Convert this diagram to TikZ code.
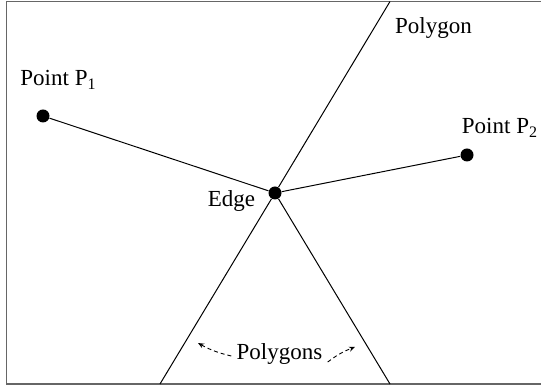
\documentclass[tikz,border=0pt]{standalone}
\usepackage{fontspec}
\setmainfont{Liberation Serif}
\usetikzlibrary{arrows.meta}
\newcommand\subdig[1]{\raisebox{-0.4ex}{\fontsize{8}{9}\selectfont #1}}
\tikzset{
  dotnode/.style={circle,fill=black,inner sep=0pt,minimum size=6.5pt},
  lbl/.style={inner sep=0pt,font=\fontsize{11.5}{13}\selectfont},
  edgeline/.style={line width=0.5pt},
  frameline/.style={line width=0.8pt,draw=black!60},
  hintarrow/.style={dashed,line width=0.45pt,dash pattern=on 2pt off 1.5pt,-{Stealth[length=3pt,width=2.5pt,open]}}
}
\begin{document}
\begin{tikzpicture}[x=0.5pt,y=-0.5pt]
\useasboundingbox (0,0) rectangle (541,389);
\draw[frameline] (541,1.5) -- (6.5,1.5) -- (6.5,384) -- (541,384);
\node[dotnode] (p1) at (43,116) {};
\node[dotnode] (p2) at (467,155) {};
\node[dotnode] (e) at (275,193) {};
\coordinate (top) at (390,1.5);
\coordinate (bl) at (160,384);
\coordinate (br) at (390,384);
\draw[edgeline] (top) -- (e);
\draw[edgeline] (e) -- (bl);
\draw[edgeline] (e) -- (br);
\draw[edgeline] (p1) -- (e);
\draw[edgeline] (e) -- (p2);
\node[lbl] (lp1) at (58,80) {Point P\subdig{1}};
\node[lbl] (lp2) at (499.5,128) {Point P\subdig{2}};
\node[lbl] (le) at (231.5,201) {Edge};
\node[lbl] (lpoly) at (433.5,28) {Polygon};
\node[lbl] (lpolys) at (279.5,354) {Polygons};
\coordinate (a1) at (198,343);
\coordinate (a2) at (355,347);
\draw[hintarrow] (lpolys.west) ++(-5,2) to[bend left=8] (a1);
\draw[hintarrow] (lpolys.east) ++(5,8) to[bend left=8] (a2);
\end{tikzpicture}
\end{document}
